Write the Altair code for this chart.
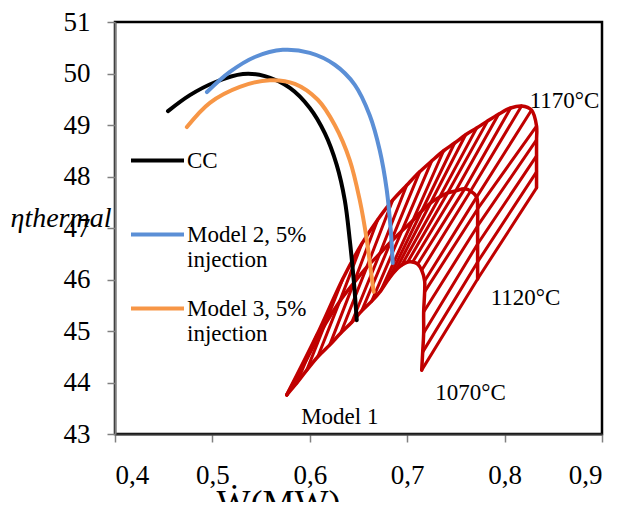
import altair as alt
import pandas as pd

# ---- model curves (W in MW, thermal efficiency in %) ----
cc_x = [0.4544, 0.4769, 0.5026, 0.5313, 0.5538, 0.5795, 0.6000, 0.6154, 0.6277, 0.6359, 0.6410, 0.6451, 0.6482]
cc_y = [49.27, 49.58, 49.83, 49.99, 49.95, 49.72, 49.33, 48.84, 48.22, 47.54, 46.77, 45.99, 45.21]

m2_x = [0.4944, 0.5179, 0.5436, 0.5723, 0.6000, 0.6256, 0.6462, 0.6615, 0.6718, 0.6790, 0.6831, 0.6851]
m2_y = [49.64, 50.03, 50.32, 50.46, 50.40, 50.17, 49.78, 49.19, 48.51, 47.74, 46.96, 46.32]

m3_x = [0.4738, 0.4974, 0.5282, 0.5590, 0.5846, 0.6082, 0.6256, 0.6410, 0.6513, 0.6585, 0.6626, 0.6656]
m3_y = [48.96, 49.43, 49.74, 49.87, 49.80, 49.49, 49.00, 48.32, 47.54, 46.77, 46.18, 45.76]

series_names = ["CC", "Model 2, 5% injection", "Model 3, 5% injection"]
series_colors = ["#000000", "#5B8FD6", "#F79646"]

# ---- Model 1 surface: one curve per turbine inlet temperature ----
t1070_x = [0.5764, 0.5867, 0.5969, 0.6082, 0.6205, 0.6318, 0.6431, 0.6533, 0.6636, 0.6728, 0.6810, 0.6882,
           0.6944, 0.7005, 0.7056, 0.7108, 0.7149, 0.7179, 0.7179, 0.7169, 0.7169, 0.7159, 0.7149]
t1070_y = [43.76, 43.99, 44.24, 44.50, 44.73, 44.96, 45.17, 45.39, 45.58, 45.78, 46.01, 46.18,
           46.28, 46.34, 46.34, 46.30, 46.18, 45.97, 45.76, 45.37, 44.96, 44.59, 44.24]

t1120_x = [0.5764, 0.5969, 0.6154, 0.6308, 0.6451, 0.6585, 0.6718, 0.6831, 0.6944, 0.7056, 0.7149, 0.7241,
           0.7333, 0.7415, 0.7497, 0.7590, 0.7651, 0.7713, 0.7723, 0.7723, 0.7723, 0.7723, 0.7723]
t1120_y = [43.76, 44.46, 45.12, 45.58, 45.93, 46.24, 46.50, 46.73, 46.94, 47.14, 47.33, 47.49,
           47.60, 47.68, 47.72, 47.76, 47.72, 47.60, 47.37, 47.04, 46.69, 46.34, 46.01]

t1170_x = [0.5764, 0.6072, 0.6338, 0.6533, 0.6697, 0.6851, 0.6995, 0.7128, 0.7251, 0.7374, 0.7487, 0.7600,
           0.7713, 0.7826, 0.7938, 0.8062, 0.8174, 0.8277, 0.8328, 0.8328, 0.8328, 0.8328, 0.8328]
t1170_y = [43.76, 44.92, 46.01, 46.69, 47.16, 47.54, 47.83, 48.09, 48.30, 48.50, 48.65, 48.81,
           48.94, 49.08, 49.21, 49.33, 49.37, 49.29, 48.98, 48.71, 48.40, 48.09, 47.78]

temp_labels = ["1070°C", "1120°C", "1170°C"]

# ---- annotations ----
ann_text = ["1170°C", "1120°C", "1070°C", "Model 1"]
ann_x = [0.8615, 0.8215, 0.7651, 0.6308]
ann_y = [49.47, 45.64, 43.80, 43.33]

x_ticks = [0.4, 0.5, 0.6, 0.7, 0.8, 0.9]
y_ticks = [43, 44, 45, 46, 47, 48, 49, 50, 51]

RED = "#C00000"
FONT = "Liberation Serif"

# ---- build tables ----
model_rows = []
for name, xs_, ys_ in zip(series_names, [cc_x, m2_x, m3_x], [cc_y, m2_y, m3_y]):
    for i, (a, b) in enumerate(zip(xs_, ys_)):
        model_rows.append({"series": name, "i": i, "x": a, "y": b})
model_df = pd.DataFrame(model_rows)

temp_x = [t1070_x, t1120_x, t1170_x]
temp_y = [t1070_y, t1120_y, t1170_y]
curve_rows, hatch_rows = [], []
for k, lab in enumerate(temp_labels):
    for i in range(len(temp_x[k])):
        curve_rows.append({"temp": lab, "i": i, "x": temp_x[k][i], "y": temp_y[k][i]})
        hatch_rows.append({"h": i, "k": k, "x": temp_x[k][i], "y": temp_y[k][i]})
curve_df = pd.DataFrame(curve_rows)
hatch_df = pd.DataFrame(hatch_rows)

ann_df = pd.DataFrame({"t": ann_text, "x": ann_x, "y": ann_y})

xs = alt.Scale(domain=[0.4, 0.9], nice=False, zero=False)
ys = alt.Scale(domain=[43, 51], nice=False, zero=False)

x_axis = alt.Axis(values=x_ticks, grid=False, labelFont=FONT, labelFontSize=27, labelColor="black",
                  labelExpr="replace(format(datum.value, '.1f'), '.', ',')",
                  tickColor="#808080", tickSize=8, tickWidth=1.5, domainColor="#333333", domainWidth=2,
                  labelPadding=20, title="Ẇ(MW)", titleFont=FONT, titleFontSize=36,
                  titleFontWeight="normal", titleColor="black", titleX=163, titleY=52,
                  titleBaseline="top", titleAlign="center")
y_axis = alt.Axis(values=y_ticks, grid=False, labelFont=FONT, labelFontSize=27, labelColor="black",
                  tickColor="#808080", tickSize=8, tickWidth=1.5, domainColor="#808080", domainWidth=2,
                  labelPadding=17, title="ηthermal", titleFont=FONT, titleFontStyle="italic",
                  titleFontSize=28, titleFontWeight="normal", titleColor="black", titleAngle=0,
                  titleX=-105, titleY=196, titleAlign="left", titleBaseline="middle")

hatch = alt.Chart(hatch_df).mark_line(color=RED, strokeWidth=3, strokeCap="round", strokeJoin="round").encode(
    x=alt.X("x:Q", scale=xs, axis=x_axis),
    y=alt.Y("y:Q", scale=ys, axis=y_axis),
    detail="h:N",
    order="k:Q",
)

curves = alt.Chart(curve_df).mark_line(color=RED, strokeWidth=3.5, strokeCap="round", strokeJoin="round",
                                        interpolate="catmull-rom").encode(
    x=alt.X("x:Q", scale=xs),
    y=alt.Y("y:Q", scale=ys),
    detail="temp:N",
    order="i:Q",
)

models = alt.Chart(model_df).mark_line(strokeWidth=4, strokeCap="round", strokeJoin="round",
                                       interpolate="catmull-rom").encode(
    x=alt.X("x:Q", scale=xs),
    y=alt.Y("y:Q", scale=ys),
    color=alt.Color("series:N", scale=alt.Scale(domain=series_names, range=series_colors),
                    legend=alt.Legend(orient="none", legendX=14, legendY=110, title=None,
                                      symbolType="stroke", symbolSize=2809, symbolStrokeWidth=4,
                                      labelFont=FONT, labelFontSize=23, labelColor="black",
                                      labelLimit=400, labelOffset=1, rowPadding=8, padding=0,
                                      labelExpr="datum.label == 'CC' ? ['CC', ' '] : [replace(datum.label, ' injection', ''), 'injection']")),
    detail="series:N",
    order="i:Q",
)

labels = alt.Chart(ann_df).mark_text(font=FONT, fontSize=23, color="black").encode(
    x=alt.X("x:Q", scale=xs),
    y=alt.Y("y:Q", scale=ys),
    text="t:N",
)

chart = alt.layer(hatch, curves, models, labels).properties(
    width=487, height=412,
    autosize=alt.AutoSizeParams(type="none"),
    padding={"left": 107, "top": 14, "right": 9, "bottom": 68},
).configure_view(stroke="black", strokeWidth=2.5)

chart.save("out.html", embed_options={"renderer": "svg", "actions": False})
